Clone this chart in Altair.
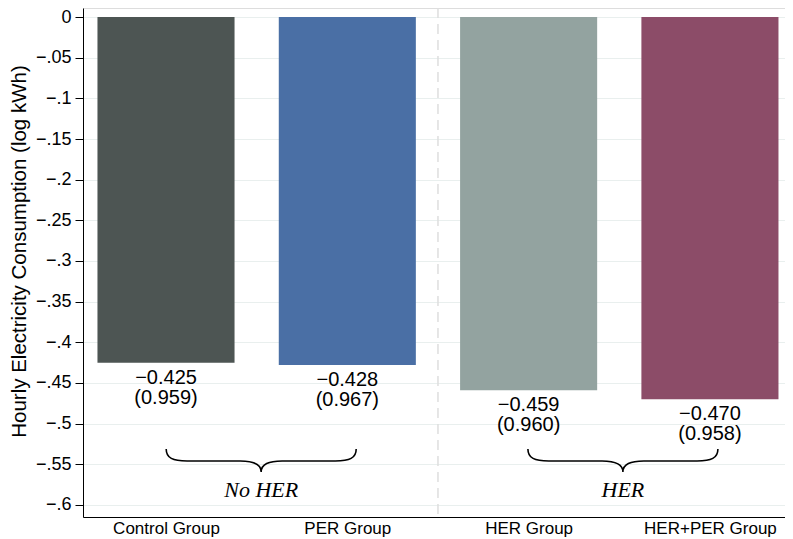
import altair as alt
import pandas as pd

# ---- data ----
groups = ["Control Group", "PER Group", "HER Group", "HER+PER Group"]
coefs = [-0.425, -0.428, -0.459, -0.470]
paren_vals = [0.959, 0.967, 0.960, 0.958]
bar_colors = ["#4d5553", "#4a6fa5", "#93a3a0", "#8c4c68"]
y_ticks = [0, -0.05, -0.1, -0.15, -0.2, -0.25, -0.3, -0.35, -0.4, -0.45, -0.5, -0.55, -0.6]
brace_labels = ["No HER", "HER"]
brace_centers = [0.525, 2.52]     # in group-index units
divider_at = [1.5]

bars = pd.DataFrame({
    "idx": list(range(len(groups))),
    "group": groups,
    "coef": coefs,
    "coef_lbl": ["\u2212{:.3f}".format(abs(c)) for c in coefs],
    "paren_lbl": ["({:.3f})".format(p) for p in paren_vals],
})
braces = pd.DataFrame({"xc": brace_centers, "label": brace_labels})
divider = pd.DataFrame({"xd": divider_at})

XDOM = [-0.4578, 3.414]
YDOM = [-0.6148, 0.0111]
FONT = "Liberation Sans"

xscale = alt.Scale(domain=XDOM, nice=False, zero=False)
yscale = alt.Scale(domain=YDOM, nice=False, zero=False)

label_expr = "[" + ",".join("'%s'" % g for g in groups) + "][datum.value]"
xaxis = alt.Axis(values=list(range(len(groups))), labelExpr=label_expr, title=None,
                 ticks=False, tickSize=0, grid=False, labelPadding=3, labelFontSize=17,
                 labelFont=FONT, labelColor="black", domainColor="black", domainWidth=1)
yaxis = alt.Axis(values=y_ticks,
                 labelExpr="datum.value == 0 ? '0' : '\u2212' + substring(format(-datum.value, '.2~f'), 1)",
                 title="Hourly Electricity Consumption (log kWh)",
                 titleFont=FONT, titleFontSize=20.5, titleFontWeight="normal", titleColor="black",
                 titleX=-64, titleY=243, titleAlign="center", titleBaseline="middle", titleAngle=-90,
                 labelFont=FONT, labelFontSize=18, labelColor="black", labelPadding=4,
                 tickSize=8, tickColor="black", domainColor="black", domainWidth=1,
                 grid=True, gridColor="#e9efee", gridWidth=1)

base = alt.Chart(bars)

bar_layer = base.transform_calculate(
    x0="datum.idx - 0.378", x1="datum.idx + 0.378", zero="0"
).mark_rect().encode(
    x=alt.X("x0:Q", scale=xscale, axis=xaxis),
    x2="x1:Q",
    y=alt.Y("zero:Q", scale=yscale, axis=yaxis),
    y2="coef:Q",
    color=alt.Color("group:N", scale=alt.Scale(domain=groups, range=bar_colors), legend=None),
)

coef_text = base.mark_text(font=FONT, fontSize=20, baseline="middle", align="center",
                           dy=15, color="black").encode(
    x=alt.X("idx:Q", scale=xscale), y=alt.Y("coef:Q", scale=yscale), text="coef_lbl:N")
paren_text = base.mark_text(font=FONT, fontSize=20, baseline="middle", align="center",
                            dy=35, color="black").encode(
    x=alt.X("idx:Q", scale=xscale), y=alt.Y("coef:Q", scale=yscale), text="paren_lbl:N")

divider_layer = alt.Chart(divider).mark_rule(color="#dedede", strokeWidth=1.5,
                                             strokeDash=[10, 6]).encode(
    x=alt.X("xd:Q", scale=xscale))

BRACE = ("M -1 -0.126 C -1 -0.03 -0.93 0 -0.78 0 L -0.22 0 C -0.08 0 0 0.03 0 0.116 "
         "C 0 0.03 0.08 0 0.22 0 L 0.78 0 C 0.93 0 1 -0.03 1 -0.126")
braces_base = alt.Chart(braces).transform_calculate(yb="-0.5459", yt="-0.5816")
brace_layer = braces_base.mark_point(shape=BRACE, size=36100, filled=False, color="black",
                                     strokeWidth=1.6, opacity=1).encode(
    x=alt.X("xc:Q", scale=xscale), y=alt.Y("yb:Q", scale=yscale))
brace_text = braces_base.mark_text(font="Liberation Serif", fontStyle="italic", fontSize=22,
                                   baseline="middle", align="center", color="black").encode(
    x=alt.X("xc:Q", scale=xscale), y=alt.Y("yt:Q", scale=yscale), text="label:N")

chart = alt.layer(divider_layer, bar_layer, coef_text, paren_text, brace_layer, brace_text).properties(
    width=702, height=509,
    autosize=alt.AutoSizeParams(type="none"),
    padding={"left": 75, "top": 0, "right": 0, "bottom": 22},
).configure_view(stroke=None).configure(background="white")

chart.save("out.html", embed_options={"renderer": "svg", "actions": False})
